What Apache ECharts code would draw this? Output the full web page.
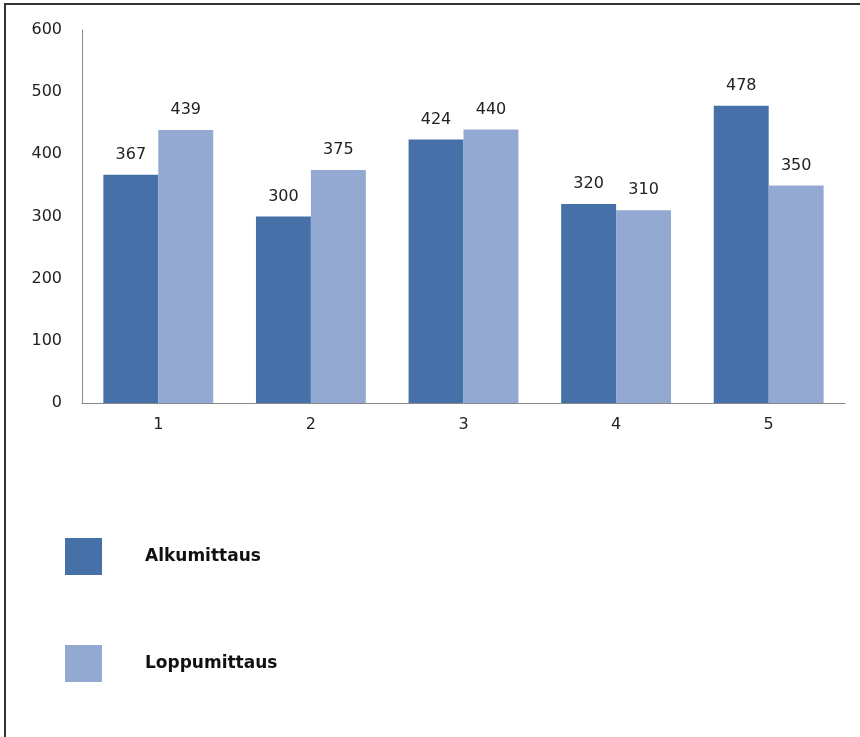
<!DOCTYPE html>
<html>
<head>
<meta charset="utf-8">
<script src="https://cdn.jsdelivr.net/npm/echarts@6/dist/echarts.min.js"></script>
<style>
  html, body { margin: 0; padding: 0; background: #fff; }
  #chart { width: 860px; height: 737px; }
</style>
</head>
<body>
<div id="chart"></div>
<script>
const categories = ['1', '2', '3', '4', '5']
const alkumittaus = [367, 300, 424, 320, 478]
const loppumittaus = [439, 375, 440, 310, 350]
const seriesNames = ['Alkumittaus', 'Loppumittaus']
const colors = ['#4571a8', '#93a9d2']

const chart = echarts.init(document.getElementById('chart'))

// value labels above the bars
const labelStyle = {
  show: true,
  position: 'top',
  distance: 12,
  color: '#222',
  fontSize: 16,
  fontFamily: 'DejaVu Sans'
}

chart.setOption({
  animation: false,
  color: colors,
  grid: { left: 82, right: 15, top: 30, bottom: 334 },
  legend: {
    orient: 'vertical',
    left: 60,
    top: 533,
    itemWidth: 37,
    itemHeight: 37,
    itemGap: 70,
    icon: 'rect',
    textStyle: {
      fontSize: 17,
      fontWeight: 'bold',
      color: '#111',
      fontFamily: 'DejaVu Sans',
      padding: [0, 0, 0, 38]
    },
    data: seriesNames
  },
  xAxis: {
    type: 'category',
    data: categories,
    axisLine: { lineStyle: { color: '#888', width: 1 } },
    axisTick: { show: false },
    axisLabel: { color: '#222', fontSize: 16, fontFamily: 'DejaVu Sans', margin: 14 }
  },
  yAxis: {
    type: 'value',
    min: 0,
    max: 600,
    interval: 100,
    axisLine: { show: true, lineStyle: { color: '#888', width: 1 } },
    axisTick: { show: false },
    splitLine: { show: false },
    axisLabel: { color: '#222', fontSize: 16, fontFamily: 'DejaVu Sans', margin: 20 }
  },
  series: [
    {
      name: seriesNames[0],
      type: 'bar',
      data: alkumittaus,
      barGap: '0%',
      barCategoryGap: '28%',
      label: labelStyle
    },
    {
      name: seriesNames[1],
      type: 'bar',
      data: loppumittaus,
      label: labelStyle
    }
  ],
  graphic: [
    {
      type: 'polyline',
      shape: { points: [[5, 737], [5, 4], [860, 4]] },
      style: { stroke: '#333', lineWidth: 2, fill: null }
    }
  ]
})
</script>
</body>
</html>
